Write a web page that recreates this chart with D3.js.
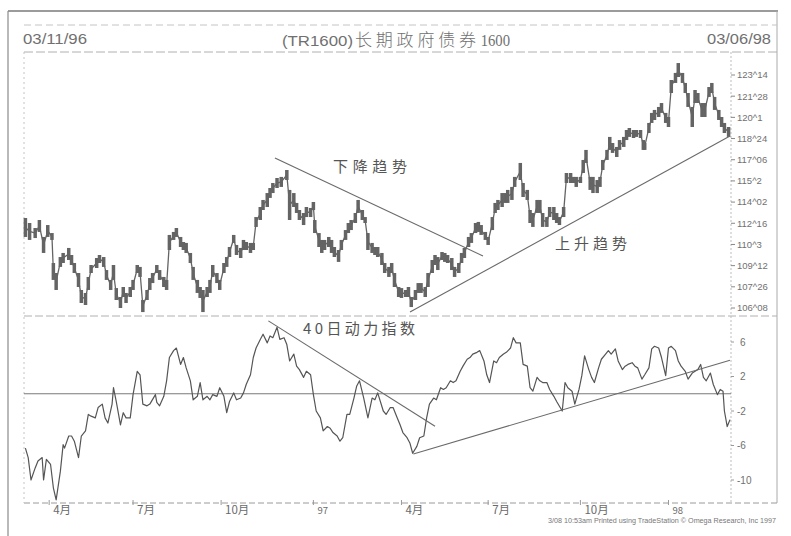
<!DOCTYPE html>
<html><head><meta charset="utf-8">
<script src="https://cdn.jsdelivr.net/npm/d3@7"></script>
<style>
html,body{margin:0;padding:0;background:#fff;}
svg{display:block;}
</style></head>
<body>
<svg id="c" width="791" height="536"></svg>
<script>
// ---------- DATA ----------
const headerLeft = "03/11/96";
const headerRight = "03/06/98";
const titleParts = ["(TR1600)", "长期政府债券", " 1600"];
const footerText = "3/08 10:53am Printed using TradeStation © Omega Research, Inc 1997";

const priceTickValues = [123.4375,121.875,120.3125,118.75,117.1875,115.625,114.0625,112.5,110.9375,109.375,107.8125,106.25];
const priceTickLabels = ["123^14","121^28","120^1","118^24","117^06","115^2","114^02","112^16","110^3","109^12","107^26","106^08"];
const momTickValues = [6,2,-2,-6,-10];
const momTickLabels = ["6","2","-2","-6","-10"];
const monthTickDays = [18,78,141,207,270,332,398,461];
const monthTickLabels = ["4月","7月","10月","97","4月","7月","10月","98"];

// trading-day index of each sampled bar (0 = 03/11/96, 505 = 03/06/98)
const priceDay = [
1,4,8,11,14,17,20,21,23,26, 28,32,34,36,39,41,44,46,48,52,
54,57,59,62,64,66,69,71,73,76, 78,81,83,85,88,90,92,95,97,100,
102,104,107,109,112,114,116,119,121,124, 126,128,131,133,135,138,140,143,145,147,
150,152,155,157,159,162,164,166,169,171, 174,176,178,181,184,188,190,193,195,197,
200,202,205,207,208,211,213,215,218,220, 222,225,227,230,232,234,237,239,242,244,
246,249,251,253,256,258,261,263,265,268, 270,273,275,277,280,282,284,287,289,292,
294,296,299,301,303,306,308,311,313,315, 318,320,323,325,327,330,332,335,337,339,
342,344,346,349,351,355,357,360,362,364, 367,369,371,374,376,379,381,383,386,388,
391,393,395,398,400,402,405,407,410,412, 414,417,419,421,424,426,429,431,433,436,
438,441,443,444,447,449,451,454,456,459, 461,463,466,468,471,473,475,478,480,482,
485,487,490,492,494,497,499,501,504];
const priceHigh = [
112.89,112.52,112.15,112.74,111.49,112.37,111.78,109.57,108.83,110.01, 110.31,110.68,110.16,109.57,108.83,107.58,107.36,108.54,109.42,109.94,
110.16,110.01,109.05,108.32,109.42,107.72,107.06,107.80,107.36,107.80, 108.32,109.42,109.28,106.84,107.58,108.46,108.83,109.42,109.05,108.54,
108.32,111.64,111.86,112.15,111.49,111.12,111.05,110.31,109.28,108.32, 107.80,107.58,107.80,108.32,109.42,108.83,108.32,109.57,110.01,110.75,
111.64,110.90,110.68,111.27,111.12,111.05,111.05,112.96,113.70,114.22, 114.73,115.10,115.47,115.84,115.92,116.43,114.96,114.73,114.00,113.48,
113.26,113.70,113.63,114.07,112.74,111.78,111.27,111.27,111.49,111.27, 110.75,110.53,111.27,112.00,112.52,112.74,113.26,114.22,113.48,112.96,
111.78,111.05,110.75,110.75,110.31,109.57,109.28,109.57,108.83,107.80, 107.72,107.58,107.80,107.06,107.58,108.09,108.09,107.80,108.83,109.79,
110.16,110.01,110.38,110.31,110.16,109.94,109.28,109.57,110.31,110.68, 111.49,111.78,112.52,112.60,112.37,111.86,111.49,112.96,114.00,114.22,
114.73,114.73,114.96,115.18,115.92,116.95,115.47,114.96,113.48,113.26, 114.22,114.22,113.26,112.96,113.70,113.70,113.26,112.96,113.70,116.21,
116.21,115.92,115.92,115.92,117.17,117.91,115.92,115.92,115.69,115.92, 117.17,117.91,118.87,118.42,118.13,118.64,118.87,119.38,119.53,119.38,
119.38,119.38,118.64,118.42,119.90,120.64,120.86,121.08,121.37,120.64, 120.34,123.07,123.59,124.32,123.59,122.85,122.11,121.08,122.33,122.11,
121.37,121.37,122.55,122.85,121.82,120.86,120.34,119.90,119.60];
const priceLow = [
111.49,111.27,111.41,111.86,110.31,111.49,111.27,108.32,107.58,109.28, 109.57,109.79,109.42,108.83,107.80,106.62,106.47,107.58,108.83,109.20,
109.57,109.28,108.32,107.58,108.32,106.84,106.25,107.06,106.62,107.06, 107.58,108.83,108.54,105.95,106.84,107.58,108.09,108.83,108.32,107.80,
107.58,110.53,111.27,111.49,110.75,110.53,110.31,109.57,108.32,107.36, 106.99,105.95,107.06,107.36,108.54,108.09,107.58,108.83,109.28,110.01,
111.05,110.16,109.94,110.53,110.53,110.31,110.53,112.23,112.74,113.48, 113.70,114.37,114.73,115.10,115.18,115.69,112.74,113.70,113.26,112.74,
112.37,112.96,112.96,113.48,111.78,110.75,110.31,110.53,110.75,110.31, 110.01,109.65,110.53,111.27,111.78,112.00,112.52,113.26,112.74,112.52,
110.53,110.31,110.16,110.01,109.42,108.83,108.54,108.83,107.80,107.06, 106.99,107.06,107.06,106.32,106.84,107.36,107.36,107.06,107.80,108.83,
109.42,109.05,109.79,109.65,109.57,109.05,108.54,108.83,109.57,109.94, 110.75,111.05,111.78,111.86,111.64,111.27,110.90,112.00,113.26,113.48,
113.70,114.00,114.00,114.22,115.18,115.69,114.44,114.22,112.52,112.23, 113.26,113.26,112.23,112.23,112.96,112.74,112.52,112.37,112.96,115.47,
115.47,115.47,115.18,115.47,116.21,116.95,114.96,114.73,114.73,115.18, 116.43,117.17,117.91,117.69,117.39,117.91,118.13,118.64,118.87,118.79,
118.87,118.79,117.91,117.91,119.16,119.90,120.12,120.34,120.64,119.90, 119.60,122.11,122.85,123.29,122.85,122.11,121.08,119.60,121.37,121.37,
120.34,120.34,121.82,122.11,120.86,120.12,119.60,119.16,118.87];

const momDay = [
1,3,5,8,10,13,14,16,19,21, 23,26,28,29,32,34,36,39,41,44,
46,48,51,53,56,58,60,63,64,66, 69,71,73,76,78,81,83,85,88,90,
94,95,97,100,102,104,107,109,112,114, 116,119,121,124,126,128,131,133,135,138,
140,143,145,147,150,152,155,157,159,162, 164,166,169,171,174,176,178,181,183,186,
188,190,193,195,197,200,202,205,207,209, 212,214,217,219,221,224,226,228,231,233,
236,238,240,243,246,249,251,253,257,259, 262,264,267,269,271,274,276,278,281,283,
286,288,290,293,295,298,300,302,305,307, 309,312,314,317,319,321,324,326,329,331,
333,336,338,340,343,345,348,350,352,355, 357,360,362,364,367,369,371,374,376,379,
381,385,387,389,392,394,397,399,401,404, 406,408,411,413,416,418,420,423,425,428,
430,432,435,437,439,442,444,447,449,451, 454,456,459,461,463,466,468,470,473,475,
478,480,482,484,486,488,491,493,496,498, 500,501,503,505];
const momValue = [
-6.3,-7.4,-10.0,-8.6,-7.8,-7.4,-10.0,-7.6,-8.2,-10.9, -12.3,-9.0,-5.9,-6.3,-4.9,-4.9,-5.5,-7.4,-4.9,-4.3,
-2.4,-2.6,-2.8,-1.6,-1.2,-2.8,-3.4,-1.2,0.7,-0.9, -3.6,-2.2,-2.8,-2.8,-0.1,2.6,2.2,-1.2,-1.4,-1.2,
-0.1,-1.0,-1.4,-0.3,1.5,4.2,5.0,5.3,3.4,4.2, 3.0,1.5,-0.7,-0.3,1.3,-0.7,-0.3,-0.7,-0.1,-0.3,
0.7,-0.3,-2.2,-0.9,0.1,-0.7,-0.5,0.1,1.1,2.2, 4.2,5.3,6.3,6.9,5.9,6.7,6.5,7.7,6.3,6.5,
5.7,3.8,4.6,3.2,2.8,1.9,2.6,2.2,-0.1,-2.0, -2.8,-4.3,-3.8,-4.0,-4.5,-4.9,-5.5,-5.1,-2.4,-2.4,
-0.5,0.9,1.5,-0.5,-2.8,-0.5,-0.7,0.1,-2.0,-2.4, -1.6,-1.6,-2.8,-3.6,-4.5,-5.1,-5.7,-6.9,-6.1,-5.1,
-4.9,-2.8,-1.2,-0.5,-0.7,0.7,0.5,0.7,1.5,1.3, 1.5,2.6,3.2,4.0,4.2,4.6,4.8,5.0,3.8,2.2,
1.3,3.8,3.6,4.2,4.6,4.8,5.3,6.5,5.9,5.9, 3.4,3.2,0.7,0.3,1.9,1.5,1.3,1.3,0.5,-0.3,
-0.9,-2.0,1.3,0.7,0.3,-1.2,0.5,2.1,4.4,2.8, 1.9,1.3,3.0,4.0,4.6,5.0,4.6,5.2,3.8,2.8,
3.2,3.4,3.6,3.2,3.0,1.7,2.2,3.0,5.2,5.5, 5.3,4.2,2.1,5.3,5.5,5.0,3.8,3.2,2.6,1.7,
2.4,2.6,2.8,3.4,1.9,1.5,2.4,1.1,-0.1,0.5, 0.3,-2.0,-3.8,-3.0];

// trend lines (day index, value)
const priceDownTrendDay = [179.5, 328.3];
const priceDownTrendValue = [117.32, 110.09];
const priceUpTrendDay = [276.1, 505];
const priceUpTrendValue = [105.95, 118.94];
const momDownTrendDay = [174.8, 294];
const momDownTrendValue = [8.45, -3.76];
const momUpTrendDay = [278.5, 505];
const momUpTrendValue = [-6.98, 3.88];

const labelDown = "下降趋势";
const labelUp = "上升趋势";
const labelMom = "40日动力指数";

// ---------- DRAW ----------
const svg = d3.select("#c");
const ink = "#646464", faint = "#c4c4c4";
const sans = "'Liberation Sans', Arial, 'Noto Sans CJK SC', sans-serif";
const cjk = "'Noto Sans CJK SC', 'Liberation Serif', serif";

const x = d3.scaleLinear().domain([0, 505]).range([24, 730]);
const yP = d3.scaleLinear().domain([106.25, 123.4375]).range([308, 75]);
const yM = d3.scaleLinear().domain([-10, 6]).range([480, 342]);

svg.append("rect").attr("width",791).attr("height",536).attr("fill","#fff");

// frame
const frame = svg.append("g").attr("fill","none");
frame.append("line").attr("x1",8).attr("x2",778).attr("y1",11).attr("y2",11).attr("stroke","#7a7a7a").attr("stroke-width",1.3);
frame.append("line").attr("x1",8).attr("x2",8).attr("y1",11).attr("y2",536).attr("stroke","#8a8a8a").attr("stroke-width",1.2);
frame.append("line").attr("x1",777).attr("x2",777).attr("y1",11).attr("y2",503).attr("stroke","#aaa").attr("stroke-width",1);
frame.append("line").attr("x1",24).attr("x2",777).attr("y1",25).attr("y2",25).attr("stroke",faint).attr("stroke-dasharray","7,4");
frame.append("line").attr("x1",24).attr("x2",777).attr("y1",52).attr("y2",52).attr("stroke","#b0b0b0").attr("stroke-dasharray","9,3");
frame.append("line").attr("x1",24).attr("x2",777).attr("y1",316).attr("y2",316).attr("stroke","#b0b0b0").attr("stroke-dasharray","8,3");
frame.append("line").attr("x1",24).attr("x2",777).attr("y1",503).attr("y2",503).attr("stroke","#9a9a9a").attr("stroke-dasharray","6,3");
frame.append("line").attr("x1",24).attr("x2",24).attr("y1",52).attr("y2",503).attr("stroke",faint).attr("stroke-dasharray","2,3");
frame.append("line").attr("x1",731).attr("x2",731).attr("y1",52).attr("y2",503).attr("stroke","#bdbdbd").attr("stroke-dasharray","2,2");

// header
svg.append("text").attr("x",23).attr("y",44).attr("font-family",sans).attr("font-size",15)
  .attr("fill","#707070").attr("textLength",64).attr("lengthAdjust","spacingAndGlyphs").text(headerLeft);
svg.append("text").attr("x",707).attr("y",44).attr("font-family",sans).attr("font-size",15)
  .attr("fill","#707070").attr("textLength",64).attr("lengthAdjust","spacingAndGlyphs").text(headerRight);
const t = svg.append("text").attr("y",46).attr("fill","#707070");
t.append("tspan").attr("x",282).attr("font-family",sans).attr("font-size",15).attr("textLength",71).attr("lengthAdjust","spacingAndGlyphs").text(titleParts[0]);
t.append("tspan").attr("x",355).attr("font-family",cjk).attr("font-size",17).attr("font-weight",300).attr("textLength",121).attr("lengthAdjust","spacing").text(titleParts[1]);
t.append("tspan").attr("x",477).attr("font-family","'Liberation Serif', serif").attr("font-size",16).attr("textLength",33).attr("lengthAdjust","spacingAndGlyphs").text(titleParts[2]);

// price bars: connector through bar mid-points, then high-low bars
const mid = (i) => (priceHigh[i] + priceLow[i]) / 2;
svg.append("path")
  .attr("d", d3.line().x(d=>x(d)).y((d,i)=>yP(mid(i)))(priceDay))
  .attr("fill","none").attr("stroke",ink).attr("stroke-width",1.3);
svg.append("g").selectAll("line").data(priceDay).join("line")
  .attr("x1",d=>x(d)).attr("x2",d=>x(d))
  .attr("y1",(d,i)=>yP(priceHigh[i])).attr("y2",(d,i)=>yP(priceLow[i]))
  .attr("stroke",ink).attr("stroke-width",3.5);

// price axis
const pa = svg.append("g");
pa.selectAll("line").data(priceTickValues).join("line")
  .attr("x1",731).attr("x2",735).attr("y1",d=>yP(d)).attr("y2",d=>yP(d)).attr("stroke","#888");
pa.selectAll("text").data(priceTickValues).join("text")
  .attr("x",737).attr("y",d=>yP(d)).attr("dy","0.35em")
  .attr("font-family",sans).attr("font-size",9.5).attr("fill","#707070")
  .text((d,i)=>priceTickLabels[i]);

// price trend lines
const seg = (days, vals, ys) => days.map((d,i)=>[x(d), ys(vals[i])]);
const lineGen = d3.line();
svg.append("path").attr("d",lineGen(seg(priceDownTrendDay,priceDownTrendValue,yP))).attr("stroke","#6a6a6a").attr("stroke-width",1.1).attr("fill","none");
svg.append("path").attr("d",lineGen(seg(priceUpTrendDay,priceUpTrendValue,yP))).attr("stroke","#6a6a6a").attr("stroke-width",1.1).attr("fill","none");

// momentum zero line
svg.append("line").attr("x1",24).attr("x2",731).attr("y1",yM(0)).attr("y2",yM(0)).attr("stroke","#7a7a7a").attr("stroke-width",1.1);

// momentum line
const mLine = d3.line().x((d,i)=>x(d)).y((d,i)=>yM(momValue[i]));
svg.append("path").attr("d",mLine(momDay)).attr("fill","none").attr("stroke","#555").attr("stroke-width",1.2).attr("stroke-linejoin","round");

// momentum trend lines
svg.append("path").attr("d",lineGen(seg(momDownTrendDay,momDownTrendValue,yM))).attr("stroke","#6a6a6a").attr("stroke-width",1.1).attr("fill","none");
svg.append("path").attr("d",lineGen(seg(momUpTrendDay,momUpTrendValue,yM))).attr("stroke","#6a6a6a").attr("stroke-width",1.1).attr("fill","none");

// momentum axis
const ma = svg.append("g");
ma.selectAll("line").data(momTickValues).join("line")
  .attr("x1",731).attr("x2",734).attr("y1",d=>yM(d)).attr("y2",d=>yM(d)).attr("stroke","#999");
ma.selectAll("text").data(momTickValues).join("text")
  .attr("x",d=>d<0?737:740).attr("y",d=>yM(d)).attr("dy","0.35em")
  .attr("font-family",sans).attr("font-size",10).attr("fill","#707070")
  .text((d,i)=>momTickLabels[i]);

// x axis
const xa = svg.append("g");
xa.selectAll("line").data(monthTickDays).join("line")
  .attr("x1",d=>x(d)).attr("x2",d=>x(d)).attr("y1",500).attr("y2",505).attr("stroke","#999");
xa.selectAll("text").data(monthTickDays).join("text")
  .attr("x",d=>x(d)+4).attr("y",514)
  .attr("font-family",cjk).attr("font-size",(d,i)=>/月/.test(monthTickLabels[i])?11.5:9.5).attr("fill","#6a6a6a")
  .text((d,i)=>monthTickLabels[i]);

// annotations
svg.append("text").attr("x",333).attr("y",172).attr("font-family",cjk).attr("font-size",15).attr("fill","#555")
  .attr("textLength",74).attr("lengthAdjust","spacing").text(labelDown);
svg.append("text").attr("x",555).attr("y",249).attr("font-family",cjk).attr("font-size",15).attr("fill","#555")
  .attr("textLength",72).attr("lengthAdjust","spacing").text(labelUp);
svg.append("text").attr("x",303).attr("y",334).attr("font-family",cjk).attr("font-size",15).attr("fill","#555")
  .attr("textLength",112).attr("lengthAdjust","spacing").text(labelMom);

// footer
svg.append("text").attr("x",548).attr("y",523).attr("font-family",sans).attr("font-size",6.5).attr("fill","#777")
  .attr("textLength",228).attr("lengthAdjust","spacingAndGlyphs").text(footerText);
</script>
</body></html>
